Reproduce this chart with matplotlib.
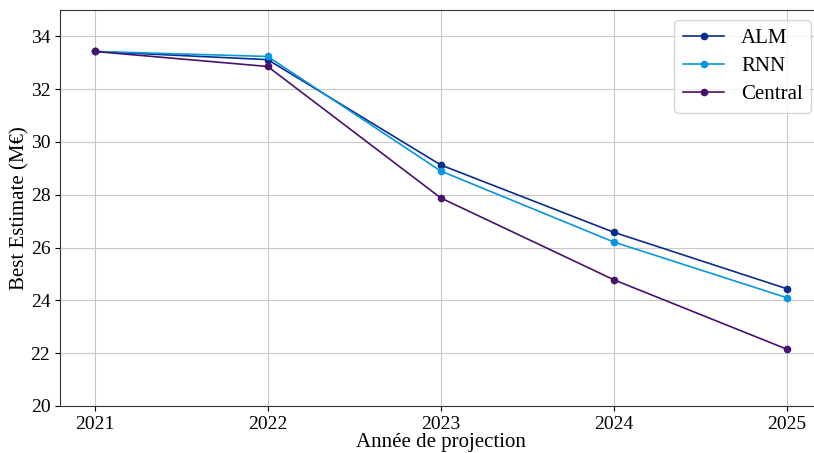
import matplotlib
matplotlib.use("Agg")
import matplotlib.pyplot as plt

years = [2021, 2022, 2023, 2024, 2025]
alm = [33.43, 33.12, 29.13, 26.58, 24.44]
rnn = [33.43, 33.24, 28.90, 26.21, 24.10]
central = [33.43, 32.86, 27.88, 24.78, 22.15]
series_names = ["ALM", "RNN", "Central"]
colors = ["#0a2d8c", "#0796df", "#47126c"]

plt.rcParams['font.family'] = ['Liberation Serif', 'DejaVu Serif']
plt.rcParams['mathtext.fontset'] = 'stix'

fig = plt.figure(figsize=(8.14, 4.53), dpi=100)
ax = fig.add_axes([60/814, 47/453, 761.6/814, 396/453])

for vals, name, c in zip([alm, rnn, central], series_names, colors):
    ax.plot(years, vals, marker='o', markersize=4.5, linewidth=1.2, color=c, label=name)

ax.set_ylim(20, 35)
ax.set_yticks([20, 22, 24, 26, 28, 30, 32, 34])
ax.set_xlim(2020.8, 2025.2)
ax.set_xticks(years)
ax.grid(True, color='#c8c8c8', linewidth=0.8)
ax.set_axisbelow(True)
ax.tick_params(labelsize=14)
ax.set_xlabel("Année de projection", fontsize=15, labelpad=0)
ax.set_ylabel("Best Estimate (M€)", fontsize=15, labelpad=1)
ax.legend(fontsize=15, loc='upper right', framealpha=0.8, handlelength=2.0,
          labelspacing=0.4)
for s in ax.spines.values():
    s.set_color('#333333')

fig.savefig("out.png", dpi=100)
